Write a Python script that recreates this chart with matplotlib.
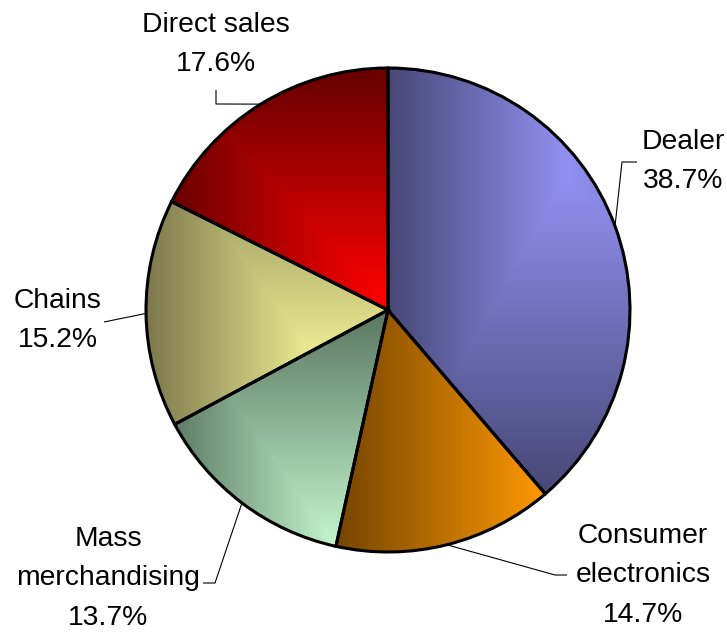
import numpy as np
import matplotlib
matplotlib.use("Agg")
import matplotlib.pyplot as plt
from matplotlib.colors import to_rgb

# Sales share by channel (%)
categories = ["Dealer", "Consumer\nelectronics", "Mass\nmerchandising", "Chains", "Direct sales"]
shares = [38.7, 14.7, 13.7, 15.2, 17.6]
value_labels = ["38.7%", "14.7%", "13.7%", "15.2%", "17.6%"]

W, H = 727, 633
CENTER_PX = (388, 310)
RADIUS = 242

# Corner-style shading of each slice (screen coords, y down):
# brightness = min(ramp along x, ramp along y), mapped dark -> light colour.
shading = [
    dict(hx=[(390, 0), (565, 1), (635, 0.8)], vy=[(180, 1), (490, 0)],
         dark="#484878", light="#9090f0"),
    dict(hx=[(335, 0), (545, 1)], vy=[(0, 1), (700, 1)],
         dark="#744400", light="#ff9900"),
    dict(hx=[(175, 0), (335, 1)], vy=[(320, 0), (545, 1)],
         dark="#5e7c66", light="#c4f6cc"),
    dict(hx=[(147, 0), (305, 1), (390, 0.9)], vy=[(200, 0.35), (345, 1)],
         dark="#7c784c", light="#e8e890"),
    dict(hx=[(175, 0), (388, 1)], vy=[(80, 0), (300, 1)],
         dark="#6c0000", light="#ff0000"),
]

# Label layout: centre x, first baseline, elbow points of the leader line
label_layout = [
    (683, 149, [(622, 162), (637, 162)]),
    (643, 543, [(555, 575), (567, 575)]),
    (108, 546, [(215, 583), (203, 583)]),
    (58, 308, [(104, 322)]),
    (216, 32, [(216, 104), (216, 90)]),
]
LINE_STEP = 39.3

plt.rcParams["font.family"] = ["Liberation Sans", "DejaVu Sans"]


def P(px, py):
    """Screen pixel position -> data coordinates."""
    return px, H - py


fig = plt.figure(figsize=(W / 100, H / 100), dpi=100)
ax = fig.add_axes([0, 0, 1, 1])

wedges, _ = ax.pie(
    shares,
    startangle=90,
    counterclock=False,
    center=P(*CENTER_PX),
    radius=RADIUS,
    frame=True,
    wedgeprops=dict(edgecolor="black", linewidth=2.2, facecolor="none"),
)
ax.set_xlim(0, W)
ax.set_ylim(0, H)
ax.set_aspect("auto")
ax.axis("off")

# Gradient fills clipped to each wedge
x0, x1 = CENTER_PX[0] - RADIUS - 4, CENTER_PX[0] + RADIUS + 4
y0, y1 = CENTER_PX[1] - RADIUS - 4, CENTER_PX[1] + RADIUS + 4
xs = np.linspace(x0, x1, 600)
ys = np.linspace(y0, y1, 600)
X, Y = np.meshgrid(xs, ys)

for wedge, sh in zip(wedges, shading):
    hx = np.interp(X, [p for p, _ in sh["hx"]], [v for _, v in sh["hx"]])
    vy = np.interp(Y, [p for p, _ in sh["vy"]], [v for _, v in sh["vy"]])
    s = np.minimum(hx, vy)[..., None]
    dark = np.array(to_rgb(sh["dark"]))
    light = np.array(to_rgb(sh["light"]))
    rgb = dark + (light - dark) * s
    im = ax.imshow(rgb, extent=(x0, x1, H - y1, H - y0), origin="upper",
                   interpolation="bilinear", zorder=0.5)
    im.set_clip_path(wedge)
    wedge.set_zorder(2)

# Labels with leader lines
for wedge, name, val, (cx, by, elbows) in zip(wedges, categories, value_labels, label_layout):
    mid = np.deg2rad((wedge.theta1 + wedge.theta2) / 2)
    ex = wedge.center[0] + wedge.r * np.cos(mid)
    ey = wedge.center[1] + wedge.r * np.sin(mid)
    pts = [(ex, ey)] + [P(*e) for e in elbows]
    ax.plot([p[0] for p in pts], [p[1] for p in pts], color="black",
            linewidth=0.8, zorder=3, solid_capstyle="butt")
    lines = name.split("\n") + [val]
    for k, line in enumerate(lines):
        ax.text(*P(cx, by + k * LINE_STEP), line, ha="center", va="baseline",
                fontsize=20.3, color="black", zorder=4)

fig.savefig("out.png", dpi=100, facecolor="white")
